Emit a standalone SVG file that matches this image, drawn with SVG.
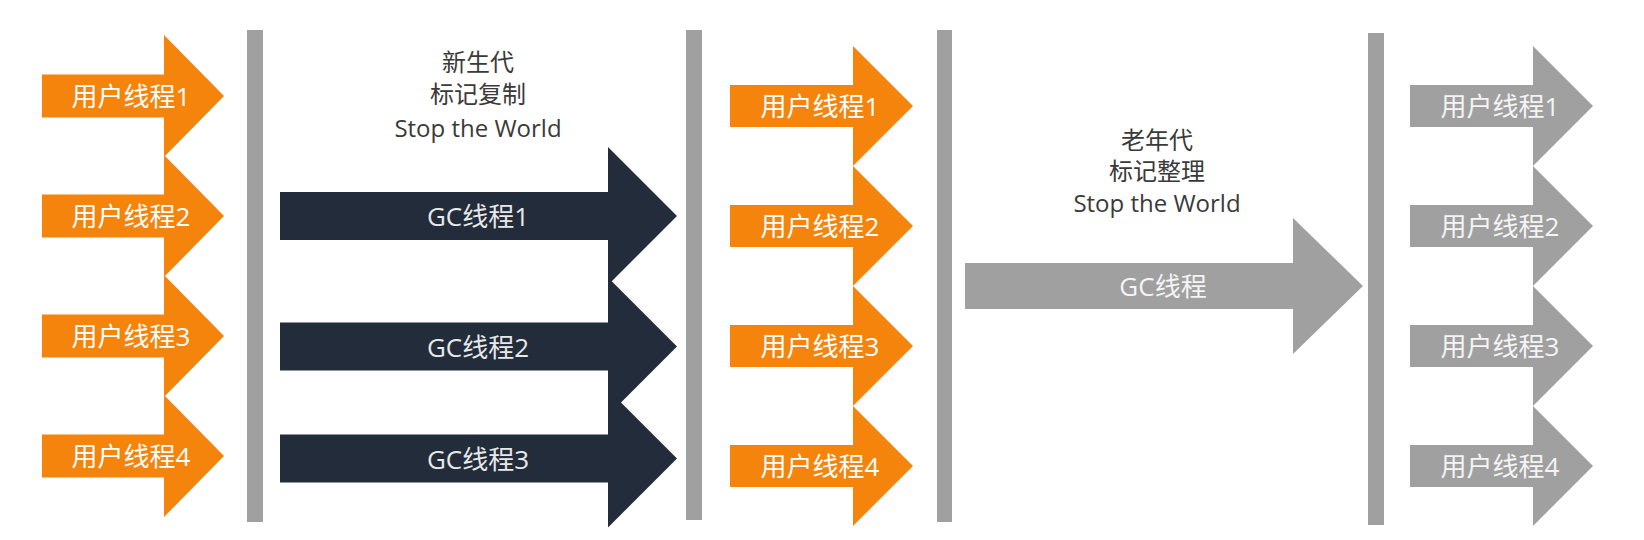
<svg xmlns="http://www.w3.org/2000/svg" width="1644" height="540" viewBox="0 0 1644 540">
<style>
.orange{fill:#f4840c}
.dark{fill:#222c3a}
.gray{fill:#a0a0a0}
.bar{fill:#a0a0a0}
text{font-family:"Open Sans","Noto Sans CJK SC",sans-serif;font-size:26px;text-anchor:middle}
.wt{fill:#ffffff}
.lt{fill:#e8e8e8}
.gt{fill:#f4f4f4}
.hd{fill:#3a3a3a;font-size:24px}
</style>
<rect x="0" y="0" width="1644" height="540" fill="#ffffff"/>
<g id="separators">
<rect class="bar" x="247" y="30" width="16" height="492"/>
<rect class="bar" x="686" y="30" width="16" height="490"/>
<rect class="bar" x="937" y="30" width="15" height="492"/>
<rect class="bar" x="1368" y="33" width="16" height="492"/>
</g>
<g id="col1-user1"><polygon class="orange" points="42,74.5 164,74.5 164,35 224,96 164,157 164,117.5 42,117.5"/><text class="wt" x="131" y="106">用户线程1</text></g>
<g id="col1-user2"><polygon class="orange" points="42,194.5 164,194.5 164,155 224,216 164,277 164,237.5 42,237.5"/><text class="wt" x="131" y="226">用户线程2</text></g>
<g id="col1-user3"><polygon class="orange" points="42,314.5 164,314.5 164,275 224,336 164,397 164,357.5 42,357.5"/><text class="wt" x="131" y="346">用户线程3</text></g>
<g id="col1-user4"><polygon class="orange" points="42,434.5 164,434.5 164,395 224,456 164,517 164,477.5 42,477.5"/><text class="wt" x="131" y="466">用户线程4</text></g>
<g id="young-gc-label">
<text class="hd" x="478" y="71">新生代</text>
<text class="hd" x="478" y="103">标记复制</text>
<text class="hd" x="478" y="137">Stop the World</text>
</g>
<g id="gc1"><polygon class="dark" points="280,192 608,192 608,147 677,216 608,285 608,240 280,240"/><text class="lt" x="478" y="226">GC线程1</text></g>
<g id="gc2"><polygon class="dark" points="280,322.5 608,322.5 608,277.5 677,346.5 608,415.5 608,370.5 280,370.5"/><text class="lt" x="478" y="356.5">GC线程2</text></g>
<g id="gc3"><polygon class="dark" points="280,434.5 608,434.5 608,389.5 677,458.5 608,527.5 608,482.5 280,482.5"/><text class="lt" x="478" y="468.5">GC线程3</text></g>
<g id="col2-user1"><polygon class="orange" points="730,85 853,85 853,46 913,106 853,166 853,127 730,127"/><text class="wt" x="820" y="116">用户线程1</text></g>
<g id="col2-user2"><polygon class="orange" points="730,205 853,205 853,166 913,226 853,286 853,247 730,247"/><text class="wt" x="820" y="236">用户线程2</text></g>
<g id="col2-user3"><polygon class="orange" points="730,325 853,325 853,286 913,346 853,406 853,367 730,367"/><text class="wt" x="820" y="356">用户线程3</text></g>
<g id="col2-user4"><polygon class="orange" points="730,445 853,445 853,406 913,466 853,526 853,487 730,487"/><text class="wt" x="820" y="476">用户线程4</text></g>
<g id="old-gc-label">
<text class="hd" x="1157" y="149">老年代</text>
<text class="hd" x="1157" y="180">标记整理</text>
<text class="hd" x="1157" y="212">Stop the World</text>
</g>
<g id="gc-old"><polygon class="gray" points="965,263 1293,263 1293,218 1363,286 1293,354 1293,309 965,309"/><text class="gt" x="1163" y="296">GC线程</text></g>
<g id="col4-user1"><polygon class="gray" points="1410,85 1533,85 1533,46 1593,106 1533,166 1533,127 1410,127"/><text class="gt" x="1500" y="116">用户线程1</text></g>
<g id="col4-user2"><polygon class="gray" points="1410,205 1533,205 1533,166 1593,226 1533,286 1533,247 1410,247"/><text class="gt" x="1500" y="236">用户线程2</text></g>
<g id="col4-user3"><polygon class="gray" points="1410,325 1533,325 1533,286 1593,346 1533,406 1533,367 1410,367"/><text class="gt" x="1500" y="356">用户线程3</text></g>
<g id="col4-user4"><polygon class="gray" points="1410,445 1533,445 1533,406 1593,466 1533,526 1533,487 1410,487"/><text class="gt" x="1500" y="476">用户线程4</text></g>
<g id="connectors"></g>
</svg>
